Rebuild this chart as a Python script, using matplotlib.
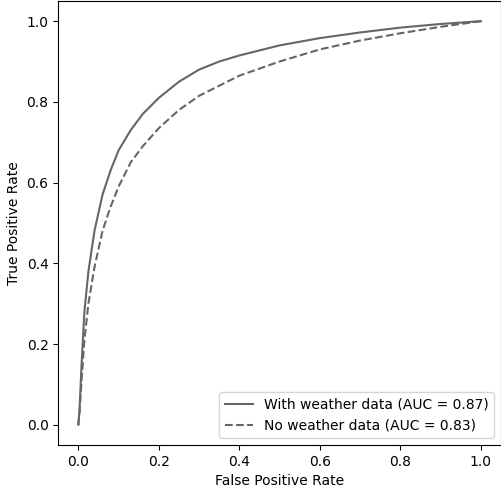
import matplotlib
matplotlib.use("Agg")
import matplotlib.pyplot as plt

# ROC curve points
fpr_with = [0.0, 0.003, 0.008, 0.015, 0.025, 0.04, 0.06, 0.08, 0.1, 0.13, 0.16, 0.2, 0.25, 0.3, 0.35, 0.4, 0.5, 0.6, 0.7, 0.8, 0.9, 1.0]
tpr_with = [0.0, 0.04, 0.15, 0.28, 0.38, 0.48, 0.57, 0.63, 0.68, 0.73, 0.77, 0.81, 0.85, 0.88, 0.90, 0.915, 0.94, 0.958, 0.972, 0.984, 0.993, 1.0]
fpr_no = [0.0, 0.003, 0.008, 0.015, 0.025, 0.04, 0.06, 0.08, 0.1, 0.13, 0.16, 0.2, 0.25, 0.3, 0.35, 0.4, 0.5, 0.6, 0.7, 0.8, 0.9, 1.0]
tpr_no = [0.0, 0.03, 0.11, 0.21, 0.30, 0.39, 0.48, 0.54, 0.59, 0.65, 0.69, 0.735, 0.78, 0.815, 0.84, 0.865, 0.90, 0.93, 0.952, 0.97, 0.986, 1.0]

color = "#666666"

fig = plt.figure(figsize=(5.02, 4.9), dpi=100)
ax = fig.add_axes([0.116, 0.092, 0.882, 0.906])
ax.plot(fpr_with, tpr_with, color=color, linestyle="-", label="With weather data (AUC = 0.87)")
ax.plot(fpr_no, tpr_no, color=color, linestyle="--", label="No weather data (AUC = 0.83)")
ax.set_xlabel("False Positive Rate")
ax.set_ylabel("True Positive Rate")
ax.legend(loc="lower right")
fig.savefig("out.png")
